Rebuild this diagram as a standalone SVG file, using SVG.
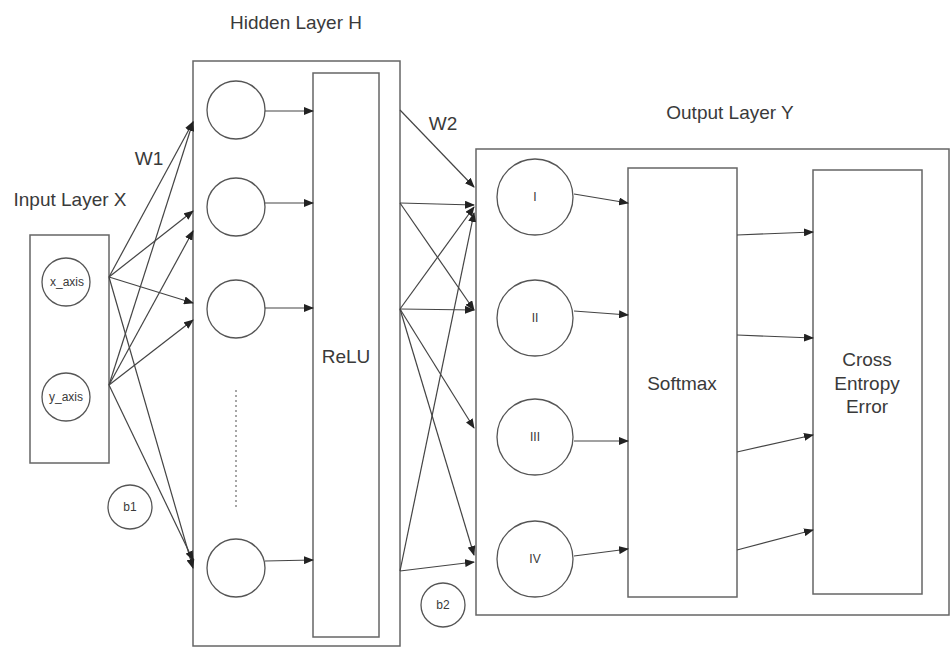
<svg xmlns="http://www.w3.org/2000/svg" width="952" height="648" viewBox="0 0 952 648">
<style>
.box{fill:#fff;stroke:#666;stroke-width:1.5}
.nd{fill:#fff;stroke:#555;stroke-width:1.3}
.t{font-family:"Liberation Sans",Arial,sans-serif;fill:#3a3a3a;text-anchor:middle;dominant-baseline:central}
.lg{font-size:19px}
.md{font-size:19px}
.sm{font-size:12px}
.c line{stroke:#444;stroke-width:1.2;marker-end:url(#ah)}
</style>
<defs>
<marker id="ah" markerUnits="userSpaceOnUse" markerWidth="10" markerHeight="8" refX="9" refY="4" orient="auto">
<path d="M0,0 L10,4 L0,8 z" fill="#222"/>
</marker>
</defs>
<rect width="952" height="648" fill="#fff"/>
<g id="labels">
<text class="t lg" x="70" y="199">Input Layer X</text>
<text class="t lg" x="296" y="22">Hidden Layer H</text>
<text class="t lg" x="730" y="112">Output Layer Y</text>
<text class="t md" x="149" y="158">W1</text>
<text class="t md" x="443" y="123">W2</text>
</g>
<g id="input-layer">
<rect class="box" x="30" y="235" width="79" height="228"/>
</g>
<g id="x_axis"><circle class="nd" cx="66" cy="282" r="24"/><text class="t sm" x="67" y="282">x_axis</text></g>
<g id="y_axis"><circle class="nd" cx="66" cy="397" r="24"/><text class="t sm" x="66" y="397">y_axis</text></g>
<g id="b1"><circle class="nd" cx="130" cy="507" r="22"/><text class="t sm" x="130" y="507">b1</text></g>
<g id="hidden-layer">
<rect class="box" x="193" y="61" width="207" height="585"/>
</g>
<g id="h1"><circle class="nd" cx="236" cy="110" r="29"/></g>
<g id="h2"><circle class="nd" cx="236" cy="207" r="29"/></g>
<g id="h3"><circle class="nd" cx="236" cy="309" r="29"/></g>
<g id="hN"><circle class="nd" cx="236" cy="568" r="29"/></g>
<g id="dots"><line x1="236" y1="390" x2="236" y2="507" stroke="#777" stroke-width="1.3" stroke-dasharray="2,3"/></g>
<g id="relu"><rect class="box" x="313" y="73" width="66" height="564"/><text class="t lg" x="346" y="356">ReLU</text></g>
<g id="output-layer">
<rect class="box" x="476" y="149" width="473" height="466"/>
</g>
<g id="o1"><circle class="nd" cx="535" cy="197" r="38"/><text class="t sm" x="535" y="197">I</text></g>
<g id="o2"><circle class="nd" cx="535" cy="318" r="38"/><text class="t sm" x="535" y="318">II</text></g>
<g id="o3"><circle class="nd" cx="535" cy="437" r="38"/><text class="t sm" x="535" y="437">III</text></g>
<g id="o4"><circle class="nd" cx="535" cy="559" r="38"/><text class="t sm" x="535" y="559">IV</text></g>
<g id="b2"><circle class="nd" cx="443" cy="605" r="22"/><text class="t sm" x="443" y="605">b2</text></g>
<g id="softmax"><rect class="box" x="628" y="168" width="109" height="429"/><text class="t md" x="682" y="383">Softmax</text></g>
<g id="cross-entropy"><rect class="box" x="813" y="170" width="109" height="424"/>
<text class="t md" x="867" y="359">Cross</text><text class="t md" x="867" y="383">Entropy</text><text class="t md" x="867" y="406">Error</text></g>
<g id="connectors" class="c">
<line x1="109" y1="277" x2="193" y2="122"/>
<line x1="109" y1="277" x2="193" y2="211"/>
<line x1="109" y1="277" x2="193" y2="303"/>
<line x1="109" y1="277" x2="193" y2="568"/>
<line x1="109" y1="385" x2="193" y2="122"/>
<line x1="109" y1="385" x2="193" y2="231"/>
<line x1="109" y1="385" x2="193" y2="320"/>
<line x1="109" y1="385" x2="193" y2="560"/>
<line x1="265" y1="111" x2="313" y2="111"/>
<line x1="265" y1="203" x2="313" y2="203"/>
<line x1="265" y1="308" x2="313" y2="308"/>
<line x1="265" y1="561" x2="313" y2="560"/>
<line x1="400" y1="110" x2="474" y2="187"/>
<line x1="400" y1="203" x2="474" y2="205"/>
<line x1="400" y1="203" x2="474" y2="310"/>
<line x1="400" y1="309" x2="474" y2="207"/>
<line x1="400" y1="309" x2="474" y2="310"/>
<line x1="400" y1="309" x2="474" y2="428"/>
<line x1="400" y1="309" x2="474" y2="555"/>
<line x1="400" y1="571" x2="474" y2="213"/>
<line x1="400" y1="571" x2="474" y2="562"/>
<line x1="574" y1="194" x2="628" y2="203"/>
<line x1="574" y1="311" x2="628" y2="315"/>
<line x1="574" y1="441" x2="628" y2="441"/>
<line x1="574" y1="556" x2="628" y2="549"/>
<line x1="737" y1="235" x2="813" y2="232"/>
<line x1="737" y1="335" x2="813" y2="338"/>
<line x1="737" y1="452" x2="813" y2="435"/>
<line x1="737" y1="550" x2="813" y2="530"/>
</g>
</svg>
